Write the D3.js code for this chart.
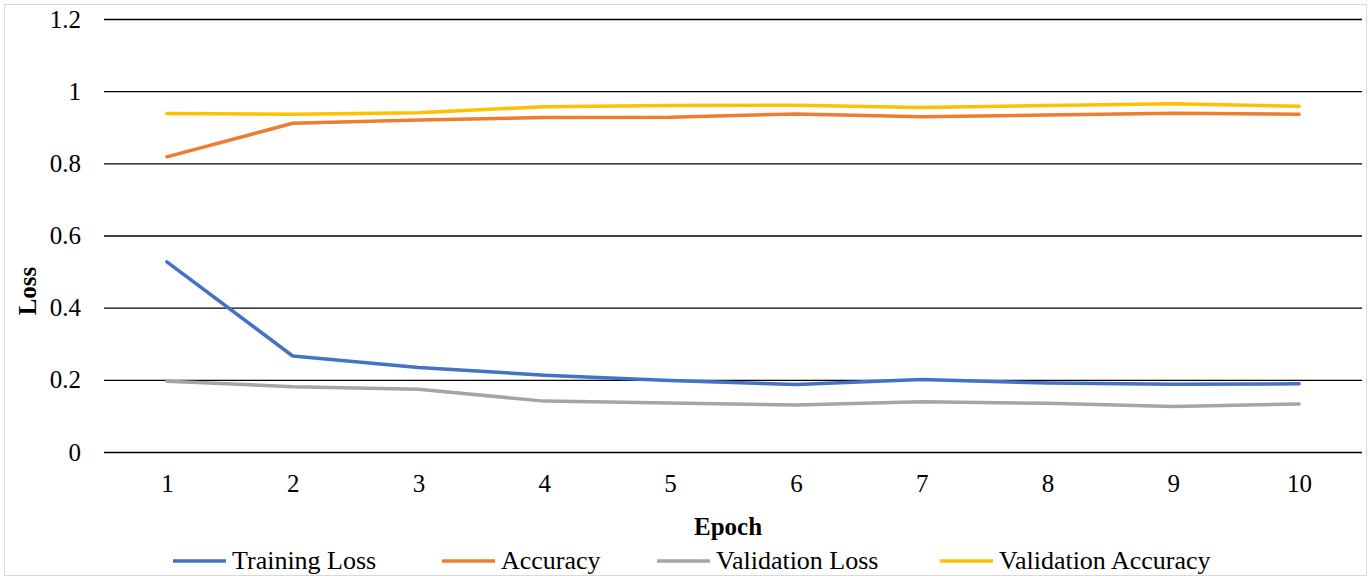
<!DOCTYPE html>
<html>
<head>
<meta charset="utf-8">
<script src="https://cdn.jsdelivr.net/npm/d3@7"></script>
<style>
  body { margin: 0; background: #fff; }
  svg text { font-family: "Liberation Serif", "Times New Roman", serif; fill: #000; }
</style>
</head>
<body>
<div id="canvas"></div>
<script>
// chart data
var epochs = [1, 2, 3, 4, 5, 6, 7, 8, 9, 10];
var trainingLoss = [0.527, 0.266, 0.234, 0.213, 0.198, 0.187, 0.201, 0.191, 0.188, 0.189];
var accuracy = [0.818, 0.911, 0.920, 0.927, 0.928, 0.937, 0.929, 0.934, 0.939, 0.936];
var validationLoss = [0.196, 0.181, 0.174, 0.141, 0.136, 0.130, 0.139, 0.135, 0.126, 0.133];
var validationAccuracy = [0.938, 0.936, 0.940, 0.957, 0.960, 0.961, 0.955, 0.960, 0.965, 0.958];
var yTicks = [0, 0.2, 0.4, 0.6, 0.8, 1, 1.2];
var seriesNames = ['Training Loss', 'Accuracy', 'Validation Loss', 'Validation Accuracy'];
var seriesColors = ['#4472C4', '#ED7D31', '#A5A5A5', '#FFC000'];

var W = 1371, H = 580;
var m = {t: 19, r: 9, b: 128, l: 104};
var w = W - m.l - m.r,
    h = H - m.t - m.b;

var svg = d3.select('#canvas')
    .append('svg')
    .attr('width', W)
    .attr('height', H);

// outer chart border
svg.append('rect')
    .attr('x', 4.5).attr('y', 4.5)
    .attr('width', W - 9).attr('height', H - 9)
    .attr('fill', '#fff')
    .attr('stroke', '#d9d9d9');

var plot = svg.append('g')
    .attr('transform', 'translate(' + m.l + ',' + m.t + ')');

var x = d3.scalePoint()
    .domain(epochs)
    .range([0, w])
    .padding(0.5);

var y = d3.scaleLinear()
    .domain([0, 1.2])
    .range([h, 0]);

// gridlines + y labels
var yAxis = plot.append('g')
    .call(d3.axisLeft(y).tickValues(yTicks).tickSize(-w).tickPadding(23)
        .tickFormat(function(d){ return d3.format('')(+d.toFixed(1)); }));
yAxis.select('.domain').remove();
yAxis.selectAll('line').attr('stroke', '#000').attr('stroke-width', 1.3);
yAxis.selectAll('text').style('font-size', '25px');

// x labels
var xAxis = plot.append('g')
    .attr('transform', 'translate(0,' + h + ')')
    .call(d3.axisBottom(x).tickSize(0).tickPadding(22));
xAxis.select('.domain').remove();
xAxis.selectAll('text').style('font-size', '25px');

// lines
var allSeries = [trainingLoss, accuracy, validationLoss, validationAccuracy];
var line = d3.line()
    .x(function(d, i){ return x(epochs[i]); })
    .y(function(d){ return y(d); });

allSeries.forEach(function(vals, i){
    plot.append('path')
        .datum(vals)
        .attr('fill', 'none')
        .attr('stroke', seriesColors[i])
        .attr('stroke-width', 3.5)
        .attr('stroke-linejoin', 'round')
        .attr('stroke-linecap', 'round')
        .attr('d', line);
});

// axis titles
svg.append('text')
    .attr('transform', 'translate(36,291) rotate(-90)')
    .attr('text-anchor', 'middle')
    .style('font-size', '25px')
    .style('font-weight', 'bold')
    .text('Loss');

svg.append('text')
    .attr('x', 728)
    .attr('y', 535)
    .attr('text-anchor', 'middle')
    .style('font-size', '25px')
    .style('font-weight', 'bold')
    .text('Epoch');

// legend
var legendX = [173, 442, 657, 940];
var legend = svg.append('g');
seriesNames.forEach(function(name, i){
    legend.append('line')
        .attr('x1', legendX[i]).attr('x2', legendX[i] + 53)
        .attr('y1', 561).attr('y2', 561)
        .attr('stroke', seriesColors[i])
        .attr('stroke-width', 3.5);
    legend.append('text')
        .attr('x', legendX[i] + 59)
        .attr('y', 569)
        .style('font-size', '26px')
        .text(name);
});
</script>
</body>
</html>
